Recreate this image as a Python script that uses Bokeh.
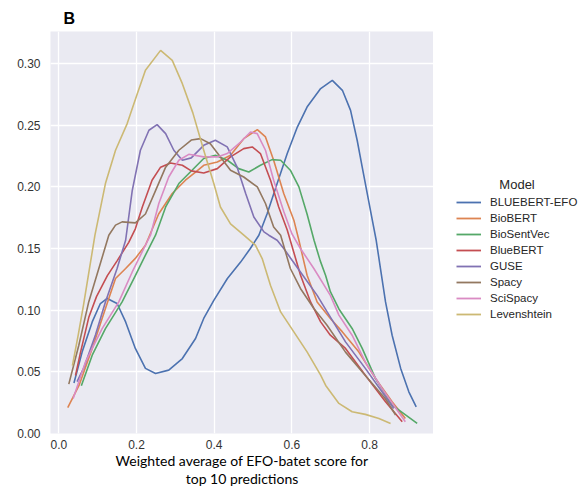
from bokeh.plotting import figure
from bokeh.layouts import row
from bokeh.models import Legend, LegendItem, FixedTicker, Range1d, NumeralTickFormatter
from bokeh.embed import file_html
from bokeh.resources import INLINE

# ---------------- data ----------------
models = ["BLUEBERT-EFO", "BioBERT", "BioSentVec", "BlueBERT", "GUSE", "Spacy", "SciSpacy", "Levenshtein"]
colors = ["#4C72B0", "#DD8452", "#55A868", "#C44E52", "#8172B3", "#937860", "#DA8BC3", "#CCB974"]

bluebert_efo_x = [0.039, 0.060, 0.086, 0.107, 0.1245, 0.150, 0.172, 0.197, 0.223, 0.249, 0.283, 0.318, 0.352,
                  0.373, 0.399, 0.434, 0.468, 0.493, 0.515, 0.536, 0.562, 0.588, 0.614, 0.639, 0.674, 0.704,
                  0.730, 0.751, 0.768, 0.781, 0.794, 0.807, 0.817, 0.828, 0.841, 0.858, 0.880, 0.901, 0.920]
bluebert_efo_y = [0.041, 0.066, 0.0905, 0.1054, 0.1095, 0.1054, 0.0905, 0.069, 0.0528, 0.0487, 0.0514, 0.0608, 0.077,
                  0.0933, 0.108, 0.1257, 0.139, 0.150, 0.1608, 0.178, 0.2027, 0.227, 0.2485, 0.2647, 0.2797, 0.2864,
                  0.2783, 0.262, 0.2378, 0.216, 0.1946, 0.173, 0.1567, 0.1338, 0.1067, 0.0797, 0.0528, 0.0338, 0.0216]

biobert_x = [0.023, 0.052, 0.086, 0.120, 0.146, 0.172, 0.197, 0.223, 0.257, 0.292, 0.326, 0.352, 0.373, 0.408,
             0.442, 0.476, 0.511, 0.532, 0.553, 0.579, 0.605, 0.618, 0.639, 0.665, 0.699, 0.730, 0.772, 0.815,
             0.858, 0.892]
biobert_y = [0.021, 0.039, 0.069, 0.1014, 0.1257, 0.1338, 0.142, 0.1527, 0.178, 0.1946, 0.2054, 0.212, 0.2175, 0.2202,
             0.2256, 0.2391, 0.2464, 0.2405, 0.2216, 0.1946, 0.173, 0.1567, 0.1284, 0.1067, 0.0933, 0.0824, 0.0662,
             0.0447, 0.0257, 0.0122]

biosentvec_x = [0.058, 0.086, 0.120, 0.163, 0.197, 0.223, 0.249, 0.275, 0.309, 0.343, 0.373, 0.403, 0.434, 0.463,
                0.489, 0.519, 0.549, 0.571, 0.596, 0.618, 0.639, 0.657, 0.673, 0.687, 0.699, 0.721, 0.755, 0.781,
                0.815, 0.858, 0.9225]
biosentvec_y = [0.0387, 0.0635, 0.085, 0.1067, 0.128, 0.1446, 0.1608, 0.1837, 0.2027, 0.2135, 0.223, 0.2256, 0.2216,
                0.2148, 0.2121, 0.2175, 0.2221, 0.2216, 0.2135, 0.200, 0.178, 0.1567, 0.140, 0.128, 0.115, 0.101,
                0.0852, 0.069, 0.0447, 0.023, 0.0082]

bluebert_x = [0.043, 0.056, 0.077, 0.097, 0.125, 0.150, 0.180, 0.197, 0.215, 0.240, 0.262, 0.2875, 0.318, 0.341,
              0.373, 0.408, 0.442, 0.476, 0.498, 0.519, 0.545, 0.566, 0.588, 0.622, 0.648, 0.674, 0.699, 0.738,
              0.789, 0.841, 0.884]
bluebert_y = [0.047, 0.066, 0.094, 0.111, 0.128, 0.140, 0.155, 0.166, 0.1837, 0.2054, 0.216, 0.2194, 0.2175, 0.213,
              0.2113, 0.2148, 0.2243, 0.231, 0.2324, 0.227, 0.2054, 0.1837, 0.165, 0.1286, 0.1067, 0.0905, 0.0797,
              0.069, 0.0473, 0.0257, 0.0095]

guse_x = [0.047, 0.064, 0.0945, 0.120, 0.150, 0.172, 0.189, 0.210, 0.232, 0.253, 0.275, 0.296, 0.318, 0.341, 0.373,
          0.403, 0.4335, 0.459, 0.481, 0.502, 0.528, 0.5405, 0.562, 0.579, 0.622, 0.665, 0.690, 0.738, 0.789, 0.832,
          0.862]
guse_y = [0.042, 0.053, 0.080, 0.1067, 0.1338, 0.1567, 0.197, 0.2297, 0.2459, 0.2505, 0.2432, 0.2297, 0.2216, 0.2235,
          0.2337, 0.2378, 0.2324, 0.216, 0.1946, 0.1756, 0.1635, 0.1608, 0.1567, 0.150, 0.131, 0.112, 0.099, 0.0743,
          0.0528, 0.0338, 0.0203]

spacy_x = [0.0257, 0.0515, 0.077, 0.103, 0.1287, 0.146, 0.163, 0.197, 0.223, 0.249, 0.275, 0.309, 0.341, 0.365,
           0.390, 0.416, 0.442, 0.476, 0.511, 0.532, 0.553, 0.571, 0.596, 0.622, 0.6565, 0.690, 0.738, 0.789, 0.841,
           0.867]
spacy_y = [0.040, 0.0716, 0.1067, 0.1338, 0.1608, 0.169, 0.1716, 0.1708, 0.178, 0.197, 0.216, 0.2297, 0.238, 0.2391,
           0.235, 0.2243, 0.2135, 0.208, 0.200, 0.1865, 0.1675, 0.1608, 0.1338, 0.1176, 0.1014, 0.088, 0.066, 0.047,
           0.028, 0.015]

scispacy_x = [0.037, 0.0687, 0.1115, 0.1544, 0.189, 0.223, 0.236, 0.2574, 0.283, 0.309, 0.3346, 0.373, 0.408, 0.4335,
              0.468, 0.4934, 0.5107, 0.532, 0.553, 0.579, 0.600, 0.622, 0.6565, 0.699, 0.721, 0.755, 0.789, 0.832,
              0.892]
scispacy_y = [0.0284, 0.058, 0.085, 0.1067, 0.131, 0.1527, 0.1608, 0.1865, 0.208, 0.2216, 0.2264, 0.2243, 0.2243, 0.227,
              0.2364, 0.2445, 0.2432, 0.2297, 0.2054, 0.180, 0.162, 0.150, 0.1338, 0.112, 0.096, 0.0797, 0.058, 0.0365,
              0.0095]

levenshtein_x = [0.035, 0.050, 0.064, 0.077, 0.093, 0.120, 0.146, 0.176, 0.202, 0.223, 0.262, 0.292, 0.318, 0.345,
                 0.373, 0.399, 0.416, 0.442, 0.474, 0.506, 0.5235, 0.545, 0.571, 0.605, 0.639, 0.674, 0.687, 0.721,
                 0.755, 0.789, 0.824, 0.854]
levenshtein_y = [0.055, 0.080, 0.105, 0.130, 0.1608, 0.2027, 0.2297, 0.2513, 0.2756, 0.2945, 0.3107, 0.3026, 0.2837,
                 0.260, 0.2297, 0.2027, 0.1837, 0.170, 0.1615, 0.1527, 0.1419, 0.120, 0.0986, 0.0824, 0.0662, 0.0473,
                 0.039, 0.0244, 0.0176, 0.0155, 0.0122, 0.0082]

series_x = [bluebert_efo_x, biobert_x, biosentvec_x, bluebert_x, guse_x, spacy_x, scispacy_x, levenshtein_x]
series_y = [bluebert_efo_y, biobert_y, biosentvec_y, bluebert_y, guse_y, spacy_y, scispacy_y, levenshtein_y]

x_ticks = [0.0, 0.2, 0.4, 0.6, 0.8]
y_ticks = [0.0, 0.05, 0.10, 0.15, 0.20, 0.25, 0.30]

# ---------------- main figure ----------------
p = figure(width=433, height=491, output_backend="svg", toolbar_location=None,
           x_range=Range1d(-0.0214, 0.9645), y_range=Range1d(0, 0.326),
           min_border_left=50, min_border_right=0, min_border_top=31, min_border_bottom=58,
           title="B")
p.background_fill_color = "#EAEAF2"
p.border_fill_color = "white"
p.outline_line_color = None

p.title.text_font = "Liberation Sans"
p.title.text_font_size = "16px"
p.title.text_font_style = "bold"
p.title.text_color = "black"
p.title.align = "left"
p.title.offset = 13
p.title.standoff = 9

p.grid.grid_line_color = "white"
p.grid.grid_line_width = 1.3

p.xaxis.ticker = FixedTicker(ticks=x_ticks)
p.yaxis.ticker = FixedTicker(ticks=y_ticks)
p.xaxis.formatter = NumeralTickFormatter(format="0.0")
p.yaxis.formatter = NumeralTickFormatter(format="0.00")
for ax in (p.xaxis, p.yaxis):
    ax.axis_line_color = None
    ax.major_tick_line_color = None
    ax.minor_tick_line_color = None
    ax.major_tick_out = 0
    ax.major_tick_in = 0
    ax.major_label_text_font = "Liberation Sans"
    ax.major_label_text_font_size = "12px"
    ax.major_label_text_color = "#333333"
p.yaxis.major_label_standoff = 10
p.xaxis.major_label_standoff = 6

p.xaxis.axis_label = "Weighted average of EFO-batet score for\ntop 10 predictions"
p.xaxis.axis_label_text_font = "Lato"
p.xaxis.axis_label_text_font_size = "14px"
p.xaxis.axis_label_text_font_style = "normal"
p.xaxis.axis_label_text_color = "black"
p.xaxis.axis_label_standoff = 0
p.xaxis.axis_label_text_line_height = 1.1

for col, xs, ys in zip(colors, series_x, series_y):
    p.line(xs, ys, line_color=col, line_width=1.6)

# ---------------- legend panel (its lines lie outside its visible range) ----------------
q = figure(width=147, height=491, output_backend="svg", toolbar_location=None,
           x_axis_type=None, y_axis_type=None, min_border=0,
           x_range=Range1d(5, 6), y_range=Range1d(5, 6))
q.outline_line_color = None
q.grid.visible = False
q.background_fill_color = "white"
q.border_fill_color = "white"

items = []
for name, col, xs, ys in zip(models, colors, series_x, series_y):
    r = q.line(xs, ys, line_color=col, line_width=1.8)
    items.append(LegendItem(label=name, renderers=[r]))

legend = Legend(items=items, location=(23, 111))
legend.title = "\u00a0" * 12 + "Model"
legend.title_text_font = "Liberation Sans"
legend.title_text_font_size = "13px"
legend.title_text_font_style = "normal"
legend.title_text_color = "#262626"
legend.title_standoff = 2
legend.background_fill_alpha = 0
legend.border_line_color = None
legend.label_text_font = "Liberation Sans"
legend.label_text_font_size = "11.5px"
legend.label_text_color = "#262626"
legend.glyph_width = 25
legend.glyph_height = 16
legend.label_height = 16
legend.spacing = 0
legend.padding = 5
legend.margin = 0
legend.label_standoff = 9
q.add_layout(legend)

layout = row(p, q)
open("out.html", "w").write(file_html(layout, INLINE))
